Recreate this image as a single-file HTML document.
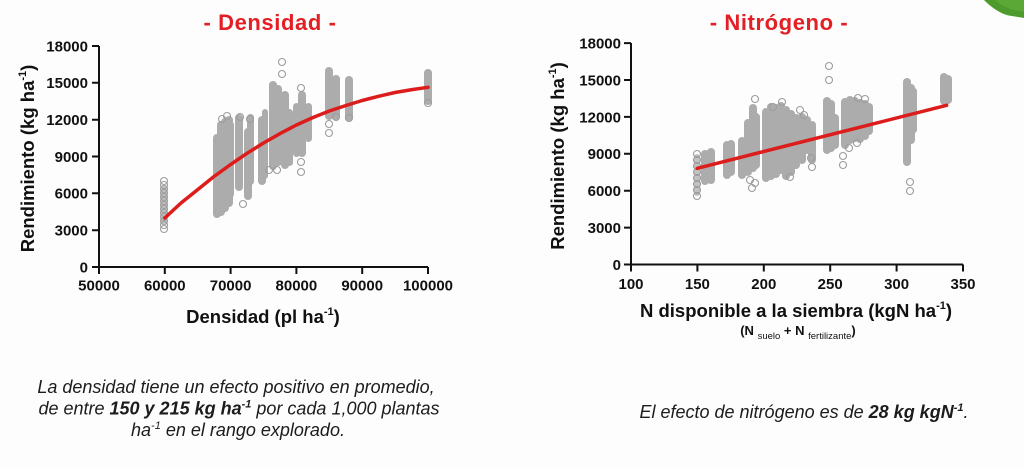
<!DOCTYPE html>
<html><head><meta charset="utf-8"><style>
html,body{margin:0;padding:0;background:#fff;}
body{width:1024px;height:468px;overflow:hidden;}
svg{display:block;}
text{font-family:"Liberation Sans",Arial,sans-serif;}
</style></head><body>
<svg width="1024" height="468" viewBox="0 0 1024 468" xmlns="http://www.w3.org/2000/svg">
<rect width="1024" height="468" fill="#fdfdfd"/>
<!-- leaf -->
<path d="M984,0 C992,8 1002,15 1012,16 L1024,18 L1024,0 Z" fill="#4e9a2c"/>
<path d="M995,0 C1002,6 1010,10 1024,12 L1024,0 Z" fill="#62ae3a" opacity="0.7"/>

<!-- ===== LEFT CHART ===== -->
<text x="270" y="30" text-anchor="middle" font-size="22" font-weight="bold" fill="#e31e24" letter-spacing="0.6">- Densidad -</text>

<g fill="#acacac">
<rect x="213" y="134" width="8" height="84" rx="4"/>
<rect x="217" y="121" width="8" height="95" rx="4"/>
<rect x="221" y="118" width="8" height="94" rx="4"/>
<rect x="225" y="116" width="8" height="91" rx="4"/>
<rect x="229" y="122" width="5" height="75" rx="2.5"/>
<rect x="235" y="114" width="8" height="77" rx="4"/>
<rect x="244" y="128" width="8" height="72" rx="4"/>
<rect x="247" y="114" width="7" height="71" rx="3.5"/>
<rect x="258" y="116" width="8" height="69" rx="4"/>
<rect x="262" y="109" width="6" height="70" rx="3"/>
<rect x="269" y="81" width="8" height="89" rx="4"/>
<rect x="274" y="85" width="8" height="81" rx="4"/>
<rect x="281" y="91" width="8" height="78" rx="4"/>
<rect x="286" y="109" width="7" height="57" rx="3.5"/>
<rect x="293" y="103" width="7" height="54" rx="3.5"/>
<rect x="298" y="91" width="8" height="66" rx="4"/>
<rect x="305" y="103" width="7" height="39" rx="3.5"/>
<rect x="325" y="67" width="8" height="53" rx="4"/>
<rect x="332" y="75" width="8" height="45" rx="4"/>
<rect x="345" y="76" width="8" height="45" rx="4"/>
<rect x="424" y="69" width="8" height="36" rx="4"/>
<rect x="161" y="186" width="6" height="38" rx="3" fill="#c4c4c4"/>
</g>
<g fill="none" stroke="#9c9c9c" stroke-width="1.1">
<circle cx="164" cy="181" r="3.5"/><circle cx="164" cy="185" r="3.5"/><circle cx="164" cy="189" r="3.5"/>
<circle cx="164" cy="193" r="3.5"/><circle cx="164" cy="197" r="3.5"/><circle cx="164" cy="201" r="3.5"/>
<circle cx="164" cy="205" r="3.5"/><circle cx="164" cy="209" r="3.5"/><circle cx="164" cy="213" r="3.5"/>
<circle cx="164" cy="217" r="3.5"/><circle cx="164" cy="221" r="3.5"/><circle cx="164" cy="225" r="3.5"/>
<circle cx="164" cy="229" r="3.5"/>
<circle cx="243" cy="204" r="3.5"/><circle cx="250" cy="119" r="3.5"/><circle cx="240" cy="117" r="3.5"/>
<circle cx="269" cy="170" r="3.5"/><circle cx="277" cy="170" r="3.5"/>
<circle cx="301" cy="172" r="3.5"/><circle cx="301" cy="162" r="3.5"/><circle cx="301" cy="88" r="3.5"/>
<circle cx="282" cy="62" r="3.5"/><circle cx="282" cy="74" r="3.5"/>
<circle cx="329" cy="133" r="3.5"/><circle cx="329" cy="124" r="3.5"/>
<circle cx="336" cy="117" r="3.5"/><circle cx="349" cy="118" r="3.5"/>
<circle cx="428" cy="103" r="3.5"/><circle cx="222" cy="119" r="3.5"/><circle cx="227" cy="116" r="3.5"/>
</g>
<polyline points="164.8,218 181,203 197.7,189.6 214,176.5 230.6,164.5 247,153.3 263.5,143 280,133.6 296.4,125 313,117.5 329.3,111 346,105.5 362.2,100.5 379,96.2 395,92.5 412,89.6 428,87.3" fill="none" stroke="#dd1c1c" stroke-width="3.5" stroke-linecap="round" stroke-linejoin="round"/>

<!-- axes left -->
<g stroke="#111" stroke-width="2" fill="none">
<path d="M99,46 V267 H428"/>
<path d="M92,46 H99 M92,82.8 H99 M92,119.7 H99 M92,156.5 H99 M92,193.3 H99 M92,230.2 H99 M92,267 H99"/>
<path d="M99,267 V274 M164.8,267 V274 M230.6,267 V274 M296.4,267 V274 M362.2,267 V274 M428,267 V274"/>
</g>
<g font-size="15" font-weight="bold" fill="#111" text-anchor="end">
<text x="88" y="51.4">18000</text><text x="88" y="88.2">15000</text><text x="88" y="125.1">12000</text>
<text x="88" y="161.9">9000</text><text x="88" y="198.7">6000</text><text x="88" y="235.6">3000</text><text x="88" y="272.4">0</text>
</g>
<g font-size="15" font-weight="bold" fill="#111" text-anchor="middle">
<text x="99" y="290.5">50000</text><text x="164.8" y="290.5">60000</text><text x="230.6" y="290.5">70000</text>
<text x="296.4" y="290.5">80000</text><text x="362.2" y="290.5">90000</text><text x="428" y="290.5">100000</text>
</g>
<text x="263" y="323" text-anchor="middle" font-size="18.5" font-weight="bold" fill="#111">Densidad (pl ha<tspan font-size="11" dy="-8">-1</tspan><tspan dy="8">)</tspan></text>
<text transform="translate(34,158.5) rotate(-90)" x="0" y="0" text-anchor="middle" font-size="18.5" font-weight="bold" fill="#111">Rendimiento (kg ha<tspan font-size="11" dy="-8">-1</tspan><tspan dy="8">)</tspan></text>

<!-- ===== RIGHT CHART ===== -->
<text x="779" y="30" text-anchor="middle" font-size="22" font-weight="bold" fill="#e31e24" letter-spacing="0.6">- Nitrógeno -</text>

<g fill="#acacac">
<rect x="694" y="154" width="6" height="42" rx="3" fill="#c2c2c2"/>
<rect x="701" y="150" width="8" height="35" rx="4"/>
<rect x="707" y="148" width="8" height="36" rx="4"/>
<rect x="723" y="141" width="8" height="38" rx="4"/>
<rect x="727" y="140" width="8" height="36" rx="4"/>
<rect x="738" y="137" width="8" height="42" rx="4"/>
<rect x="744" y="119" width="8" height="57" rx="4"/>
<rect x="749" y="104" width="8" height="68" rx="4"/>
<rect x="752" y="113" width="8" height="56" rx="4"/>
<rect x="762" y="108" width="8" height="74" rx="4"/>
<rect x="767" y="103" width="8" height="77" rx="4"/>
<rect x="772" y="104" width="8" height="74" rx="4"/>
<rect x="777" y="102" width="8" height="72" rx="4"/>
<rect x="782" y="106" width="8" height="74" rx="4"/>
<rect x="787" y="110" width="8" height="66" rx="4"/>
<rect x="792" y="114" width="8" height="55" rx="4"/>
<rect x="798" y="113" width="8" height="51" rx="4"/>
<rect x="803" y="116" width="8" height="38" rx="4"/>
<rect x="808" y="121" width="8" height="43" rx="4"/>
<rect x="823" y="97" width="8" height="57" rx="4"/>
<rect x="827" y="100" width="8" height="52" rx="4"/>
<rect x="831" y="114" width="8" height="35" rx="4"/>
<rect x="841" y="98" width="8" height="51" rx="4"/>
<rect x="846" y="96" width="8" height="48" rx="4"/>
<rect x="851" y="97" width="8" height="45" rx="4"/>
<rect x="856" y="99" width="8" height="44" rx="4"/>
<rect x="861" y="100" width="8" height="40" rx="4"/>
<rect x="865" y="103" width="8" height="32" rx="4"/>
<rect x="903" y="78" width="8" height="88" rx="4"/>
<rect x="907" y="84" width="8" height="60" rx="4"/>
<rect x="911" y="88" width="6" height="45" rx="3"/>
<rect x="940" y="73" width="8" height="32" rx="4"/>
<rect x="944" y="75" width="8" height="29" rx="4"/>
</g>
<g fill="none" stroke="#9c9c9c" stroke-width="1.1">
<circle cx="697" cy="154" r="3.5"/><circle cx="697" cy="160" r="3.5"/><circle cx="697" cy="166" r="3.5"/>
<circle cx="697" cy="172" r="3.5"/><circle cx="697" cy="178" r="3.5"/><circle cx="697" cy="184" r="3.5"/>
<circle cx="697" cy="190" r="3.5"/><circle cx="697" cy="196" r="3.5"/>
<circle cx="752" cy="188" r="3.5"/><circle cx="755" cy="183" r="3.5"/><circle cx="755" cy="99" r="3.5"/>
<circle cx="773" cy="107" r="3.5"/><circle cx="782" cy="102" r="3.5"/><circle cx="800" cy="110" r="3.5"/>
<circle cx="804" cy="115" r="3.5"/><circle cx="790" cy="177" r="3.5"/><circle cx="812" cy="167" r="3.5"/>
<circle cx="750" cy="180" r="3.5"/><circle cx="829" cy="80" r="3.5"/><circle cx="829" cy="66" r="3.5"/>
<circle cx="843" cy="165" r="3.5"/><circle cx="843" cy="156" r="3.5"/><circle cx="858" cy="98" r="3.5"/>
<circle cx="865" cy="99" r="3.5"/><circle cx="910" cy="182" r="3.5"/><circle cx="910" cy="191" r="3.5"/>
<circle cx="849" cy="148" r="3.5"/><circle cx="857" cy="143" r="3.5"/><circle cx="811" cy="158" r="3.5"/>
</g>
<line x1="697.3" y1="168.3" x2="946.7" y2="105.3" stroke="#dd1c1c" stroke-width="3.5" stroke-linecap="round"/>

<!-- axes right -->
<g stroke="#111" stroke-width="2" fill="none">
<path d="M631,43 V264.5 H963"/>
<path d="M624,43.1 H631 M624,80 H631 M624,116.9 H631 M624,153.8 H631 M624,190.7 H631 M624,227.6 H631 M624,264.5 H631"/>
<path d="M631,264.5 V271.5 M697.4,264.5 V271.5 M763.8,264.5 V271.5 M830.2,264.5 V271.5 M896.6,264.5 V271.5 M963,264.5 V271.5"/>
</g>
<g font-size="15" font-weight="bold" fill="#111" text-anchor="end">
<text x="621" y="48.5">18000</text><text x="621" y="85.4">15000</text><text x="621" y="122.3">12000</text>
<text x="621" y="159.2">9000</text><text x="621" y="196.1">6000</text><text x="621" y="233">3000</text><text x="621" y="269.9">0</text>
</g>
<g font-size="15" font-weight="bold" fill="#111" text-anchor="middle">
<text x="631" y="289">100</text><text x="697.4" y="289">150</text><text x="763.8" y="289">200</text>
<text x="830.2" y="289">250</text><text x="896.6" y="289">300</text><text x="963" y="289">350</text>
</g>
<text x="796" y="317" text-anchor="middle" font-size="18.5" font-weight="bold" fill="#111">N disponible a la siembra (kgN ha<tspan font-size="11" dy="-8">-1</tspan><tspan dy="8">)</tspan></text>
<text x="798" y="335" text-anchor="middle" font-size="13" font-weight="bold" fill="#111">(N <tspan font-size="9.5" font-weight="normal" dy="4">suelo</tspan><tspan dy="-4"> + N </tspan><tspan font-size="9.5" font-weight="normal" dy="4">fertilizante</tspan><tspan dy="-4">)</tspan></text>
<text transform="translate(564,156) rotate(-90)" x="0" y="0" text-anchor="middle" font-size="18.5" font-weight="bold" fill="#111">Rendimiento (kg ha<tspan font-size="11" dy="-8">-1</tspan><tspan dy="8">)</tspan></text>

<!-- bottom texts -->
<g font-size="18" font-style="italic" fill="#1c1c1c" text-anchor="middle">
<text x="236" y="393">La densidad tiene un efecto positivo en promedio,</text>
<text x="239" y="414.5">de entre <tspan font-weight="bold">150 y 215 kg ha<tspan font-size="11" dy="-7">-1</tspan></tspan><tspan dy="7"> por cada 1,000 plantas</tspan></text>
<text x="238" y="436">ha<tspan font-size="11" dy="-7">-1</tspan><tspan dy="7"> en el rango explorado.</tspan></text>
<text x="804" y="418">El efecto de nitrógeno es de <tspan font-weight="bold">28 kg kgN<tspan font-size="11" dy="-7">-1</tspan></tspan><tspan dy="7">.</tspan></text>
</g>
</svg>
</body></html>
